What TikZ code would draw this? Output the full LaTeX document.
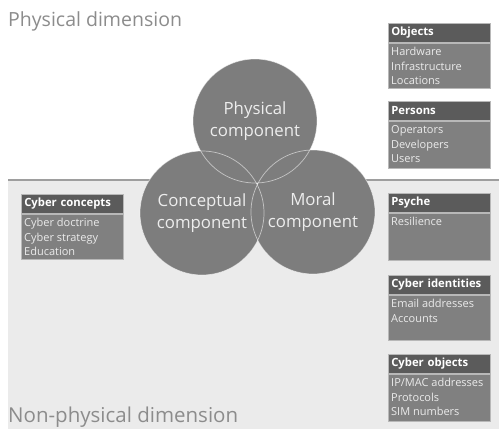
\documentclass[tikz,border=0pt]{standalone}
\usepackage{fontspec}
\setmainfont{Open Sans}
\usepackage{tikz}
\definecolor{compfill}{HTML}{7D7D7D}
\definecolor{headfill}{HTML}{5B5B5B}
\definecolor{bodyfill}{HTML}{808080}
\definecolor{lowfill}{HTML}{EBEBEB}
\definecolor{titlegray}{HTML}{8C8C8C}
\tikzset{
  comp/.style={circle, fill=compfill, minimum size=124pt, inner sep=0pt,
    align=center, text=white!93!black, font=\fontsize{16.8}{22}\selectfont},
  ring/.style={draw=white, opacity=0.55, line width=0.7pt},
  boxhead/.style={fill=headfill, draw=white!72!black, line width=0.5pt,
    text width=96pt, align=left, minimum height=19pt, inner xsep=3pt,
    anchor=north west, text=white, font=\fontsize{11.3}{13}\selectfont\bfseries},
  boxbody/.style={fill=bodyfill, draw=white!72!black, line width=0.5pt,
    minimum width=102pt, anchor=north west},
  boxtext/.style={anchor=north west, align=left, inner xsep=3pt, inner ysep=4.5pt,
    text=white!92!black, font=\fontsize{11}{14.5}\selectfont},
  dimtitle/.style={anchor=base west, inner sep=0pt, text=titlegray}
}
% name, x, top, body height, title, lines
\newcommand{\infobox}[6]{%
  \node[boxhead] (#1h) at (#2,#3) {#5};
  \node[boxbody, minimum height=#4] (#1b) at (#1h.south west) {};
  \node[boxtext] (#1t) at (#1b.north west) {\rule{0pt}{8.5pt}#6};}

\begin{document}
\begin{tikzpicture}[x=1pt,y=-1pt]
  \useasboundingbox (0,0) rectangle (499,431);
  \fill[white] (0,0) rectangle (499,431);
  % non-physical part
  \fill[lowfill] (8,180) rectangle (499,429);
  \draw[white!62!black, line width=1.4pt] (8,180) -- (499,180);
  \node[dimtitle, font=\fontsize{19.5}{22}\selectfont] (phdim) at (8,27) {Physical dimension};
  \node[dimtitle, font=\fontsize{20.5}{22}\selectfont] (nphdim) at (8,422) {Non-physical dimension};
  % components
  \node[comp] (phys) at (255,121) {Physical\\component};
  \node[comp] (conc) at (202,213) {Conceptual\\component};
  \node[comp] (moral) at (313,212) {Moral\\component};
  \draw[ring] (phys.center) circle (62);
  \draw[ring] (conc.center) circle (62);
  \draw[ring] (moral.center) circle (62);
  % boxes
  \infobox{obj}{388}{23}{45pt}{Objects}{Hardware\\Infrastructure\\Locations}
  \infobox{pers}{388}{101}{47pt}{Persons}{Operators\\Developers\\Users}
  \infobox{psy}{388}{193}{47pt}{Psyche}{Resilience}
  \infobox{cid}{388}{275}{45pt}{Cyber identities}{Email addresses\\Accounts}
  \infobox{cobj}{388}{354}{47pt}{Cyber objects}{IP/MAC addresses\\Protocols\\SIM numbers}
  \infobox{ccon}{21}{194}{45pt}{Cyber concepts}{Cyber doctrine\\Cyber strategy\\Education}
\end{tikzpicture}
\end{document}
